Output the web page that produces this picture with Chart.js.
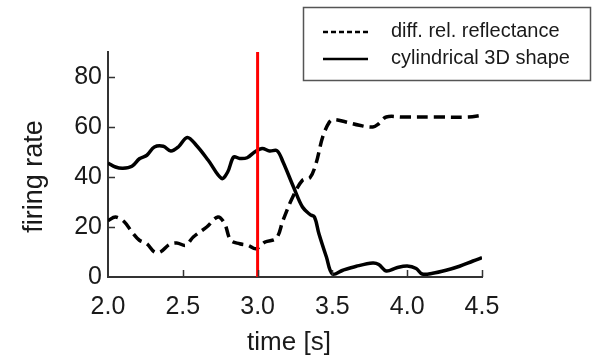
<!DOCTYPE html>
<html>
<head>
<meta charset="utf-8">
<script src="https://cdn.jsdelivr.net/npm/chart.js@4/dist/chart.umd.min.js"></script>
<style>
  html, body { margin: 0; padding: 0; background: #fff; }
  #wrap { width: 596px; height: 358px; }
</style>
</head>
<body>
<div id="wrap"><canvas id="chart" width="596" height="358"></canvas></div>
<script>
// values
const timeShape = [2.00, 2.05, 2.10, 2.16, 2.21, 2.26, 2.31, 2.37, 2.42, 2.47, 2.53, 2.59, 2.67, 2.76, 2.80, 2.84, 2.88, 2.93, 2.98, 3.03, 3.08, 3.13, 3.17, 3.24, 3.30, 3.35, 3.38, 3.41, 3.46, 3.50, 3.57, 3.66, 3.77, 3.81, 3.86, 3.93, 4.00, 4.06, 4.10, 4.17, 4.26, 4.35, 4.44, 4.50];
const shapeRate = [45.6, 44.0, 43.5, 44.3, 47.3, 48.7, 52.0, 52.3, 50.4, 52.0, 55.8, 52.7, 46.7, 39.4, 42.0, 48.0, 47.4, 47.7, 50.0, 51.4, 50.4, 50.5, 46.0, 36.0, 28.0, 25.0, 24.0, 17.3, 8.0, 1.2, 2.7, 4.3, 5.6, 5.0, 2.4, 3.7, 4.4, 3.4, 1.2, 1.5, 2.7, 4.3, 6.4, 7.7];

const timeRefl = [2.00, 2.05, 2.11, 2.16, 2.21, 2.26, 2.31, 2.35, 2.41, 2.46, 2.52, 2.57, 2.66, 2.735, 2.78, 2.82, 2.88, 2.935, 2.99, 3.05, 3.125, 3.17, 3.235, 3.30, 3.35, 3.39, 3.435, 3.48, 3.51, 3.59, 3.68, 3.77, 3.81, 3.86, 3.97, 4.19, 4.41, 4.50];
const reflRate = [22.5, 24.0, 22.0, 18.0, 14.7, 13.3, 10.0, 10.0, 13.0, 13.6, 12.7, 16.0, 20.0, 24.0, 21.3, 14.7, 13.3, 12.7, 11.3, 14.0, 15.5, 22.7, 32.0, 38.7, 39.7, 45.3, 56.0, 62.0, 63.0, 62.0, 60.7, 60.0, 61.3, 64.0, 64.0, 64.0, 64.0, 64.7];

const stimulusTime = [3.0, 3.0];
const stimulusRate = [0, 90];

const seriesLabels = ['diff. rel. reflectance', 'cylindrical 3D shape'];
const xTicks = [2.0, 2.5, 3.0, 3.5, 4.0, 4.5];
const yTicks = [0, 20, 40, 60, 80];
const xTitle = 'time [s]';
const yTitle = 'firing rate';

const FONT = '"Liberation Sans", Arial, sans-serif';
const AXIS_COLOR = '#333';
const TEXT_COLOR = '#1a1a1a';

function toPoints(xs, ys) {
    return xs.map((x, i) => ({ x: x, y: ys[i] }));
}

// tick marks point inward, titles and the boxed legend are drawn by hand
const decorations = {
    id: 'decorations',
    afterDatasetsDraw(chart) {
        const ctx = chart.ctx;
        const x = chart.scales.x, y = chart.scales.y;
        const area = chart.chartArea;
        ctx.save();
        ctx.strokeStyle = AXIS_COLOR;
        ctx.lineWidth = 1.5;
        ctx.beginPath();
        yTicks.forEach(v => {
            if (v === 0) return;
            const py = Math.round(y.getPixelForValue(v)) + 0.5;
            ctx.moveTo(area.left, py);
            ctx.lineTo(area.left + 7, py);
        });
        xTicks.forEach(v => {
            if (v === xTicks[0]) return;
            const px = Math.round(x.getPixelForValue(v)) + 0.5;
            ctx.moveTo(px, area.bottom);
            ctx.lineTo(px, area.bottom - 7);
        });
        ctx.stroke();
        ctx.restore();
    },
    afterDraw(chart) {
        const ctx = chart.ctx;
        ctx.save();
        ctx.fillStyle = TEXT_COLOR;

        // axis titles
        ctx.font = '26px ' + FONT;
        ctx.textAlign = 'center';
        ctx.textBaseline = 'alphabetic';
        ctx.fillText(xTitle, 289, 350);

        ctx.save();
        ctx.translate(41.5, 176.5);
        ctx.rotate(-Math.PI / 2);
        ctx.font = '27px ' + FONT;
        ctx.fillText(yTitle, 0, 0);
        ctx.restore();

        // legend box
        ctx.strokeStyle = '#555';
        ctx.lineWidth = 1.5;
        ctx.strokeRect(303.5, 7.5, 287, 73);

        const baselines = [37, 64];
        const styles = [
            { dash: [5, 3], width: 2.5 },
            { dash: [], width: 2.5 }
        ];
        ctx.font = '20px ' + FONT;
        ctx.textAlign = 'left';
        seriesLabels.forEach((label, i) => {
            ctx.beginPath();
            ctx.setLineDash(styles[i].dash);
            ctx.lineWidth = styles[i].width;
            ctx.strokeStyle = '#000';
            ctx.moveTo(323, baselines[i] - 5);
            ctx.lineTo(368, baselines[i] - 5);
            ctx.stroke();
            ctx.fillText(label, 391, baselines[i]);
        });
        ctx.setLineDash([]);
        ctx.restore();
    }
};

new Chart(document.getElementById('chart'), {
    type: 'line',
    data: {
        datasets: [
            {
                label: 'stimulus',
                data: toPoints(stimulusTime, stimulusRate),
                borderColor: '#ff0000',
                borderWidth: 3,
                pointRadius: 0,
                order: 0
            },
            {
                label: seriesLabels[0],
                data: toPoints(timeRefl, reflRate),
                borderColor: '#000',
                borderWidth: 3.5,
                borderDash: [11, 6],
                tension: 0.35,
                pointRadius: 0,
                order: 1
            },
            {
                label: seriesLabels[1],
                data: toPoints(timeShape, shapeRate),
                borderColor: '#000',
                borderWidth: 3.5,
                tension: 0.35,
                pointRadius: 0,
                order: 1
            }
        ]
    },
    options: {
        responsive: false,
        devicePixelRatio: 1,
        animation: false,
        layout: { padding: { left: 0, right: 114, top: 52, bottom: 0 } },
        plugins: {
            legend: { display: false },
            tooltip: { enabled: false }
        },
        scales: {
            x: {
                type: 'linear',
                min: 2,
                max: 4.5,
                afterBuildTicks: s => { s.ticks = xTicks.map(v => ({ value: v })); },
                afterFit: s => { s.height = 81; },
                grid: { display: false, drawTicks: false },
                border: { display: true, color: AXIS_COLOR, width: 2 },
                ticks: {
                    callback: v => v.toFixed(1),
                    font: { family: FONT, size: 25 },
                    color: TEXT_COLOR,
                    padding: 15,
                    maxRotation: 0
                }
            },
            y: {
                type: 'linear',
                min: 0,
                max: 90,
                afterBuildTicks: s => { s.ticks = yTicks.map(v => ({ value: v })); },
                afterFit: s => { s.width = 108; },
                grid: { display: false, drawTicks: false },
                border: { display: true, color: AXIS_COLOR, width: 2 },
                ticks: {
                    callback: v => String(v),
                    font: { family: FONT, size: 25 },
                    color: TEXT_COLOR,
                    padding: 6
                }
            }
        }
    },
    plugins: [decorations]
});
</script>
</body>
</html>
